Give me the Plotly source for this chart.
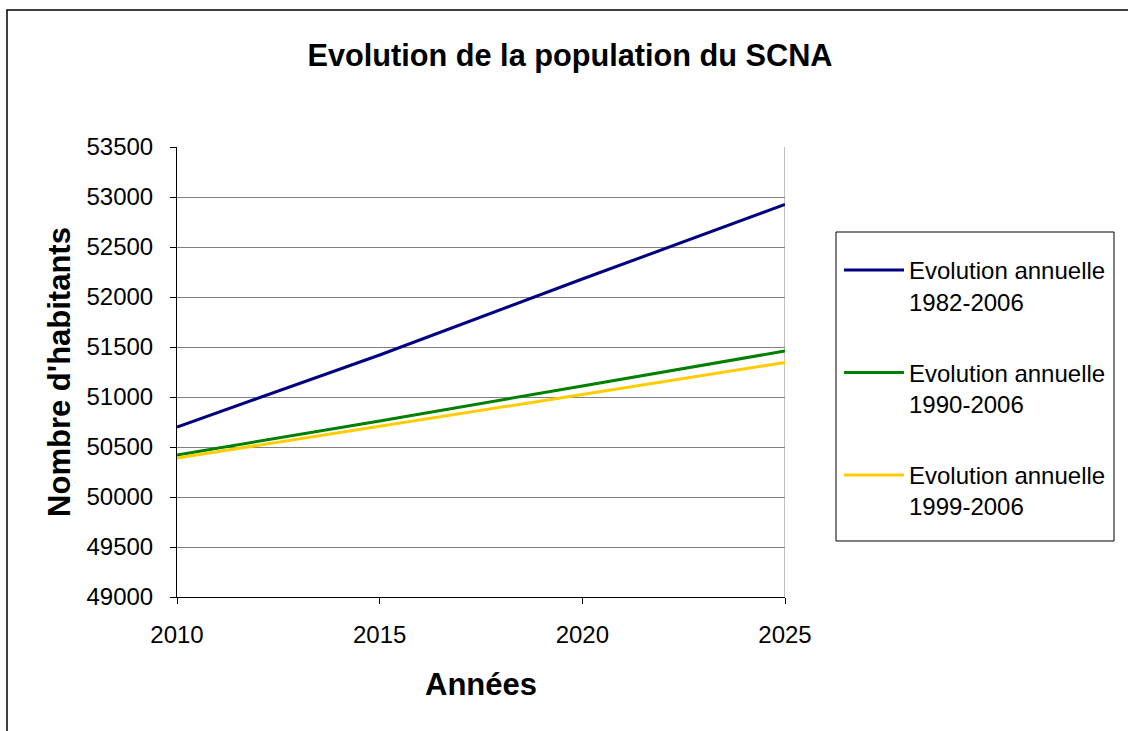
import plotly.graph_objects as go

years = [2010, 2015, 2020, 2025]
serie_1982 = [50700, 51420, 52180, 52925]
serie_1990 = [50420, 50760, 51110, 51460]
serie_1999 = [50390, 50705, 51025, 51345]
names = ["Evolution annuelle<br>1982-2006", "Evolution annuelle<br>1990-2006", "Evolution annuelle<br>1999-2006"]
colors = ["#000080", "#008000", "#FFCC00"]
y_ticks = list(range(49000, 53501, 500))
x_ticks = [2010, 2015, 2020, 2025]

W, H = 1128, 731
L, R, T, B = 177, 785, 147, 597

fig = go.Figure()
for i, (ys, nm, c) in enumerate(zip([serie_1982, serie_1990, serie_1999], names, colors)):
    fig.add_trace(go.Scatter(x=years, y=ys, mode="lines", name=nm,
                             line=dict(color=c, width=3), legendgroup=str(i)))

pw = R - L
ph = B - T
fig.update_layout(
    width=W, height=H,
    margin=dict(l=L, r=W - R, t=T, b=H - B, pad=0),
    paper_bgcolor="white", plot_bgcolor="white",
    font=dict(family="Arial, Liberation Sans, sans-serif", size=24, color="black"),
    title=dict(text="<b>Evolution de la population du SCNA</b>", x=570 / W, xanchor="center",
               y=1 - 55 / H, yanchor="middle", font=dict(size=30.7)),
    showlegend=True,
    legend=dict(x=(839 - L) / pw, y=(B - 248) / ph, xanchor="left", yanchor="top",
                borderwidth=0, bgcolor="rgba(0,0,0,0)",
                font=dict(size=24), tracegroupgap=37, traceorder="grouped",
                itemwidth=60, valign="top"),
    xaxis=dict(range=[2010, 2025], tickvals=x_ticks, tickformat="d", showgrid=False,
               showline=True, linecolor="black", linewidth=1, mirror=False,
               ticks="outside", ticklen=6, tickcolor="black", ticklabelstandoff=10,
               zeroline=False,
               title=dict(text="<b>Années</b>", font=dict(size=31), standoff=26)),
    yaxis=dict(range=[49000, 53500], tickvals=y_ticks, tickformat="d", showgrid=True,
               gridcolor="#808080", gridwidth=1,
               showline=True, linecolor="black", linewidth=1,
               ticks="outside", ticklen=6, tickcolor="black", ticklabelstandoff=12,
               zeroline=False,
               title=dict(text="<b>Nombre d'habitants</b>", font=dict(size=31), standoff=6)),
    shapes=[
        dict(type="line", xref="x", yref="paper", x0=2025, x1=2025, y0=0, y1=1,
             line=dict(color="#C0C0C0", width=2), layer="below"),
        dict(type="rect", xref="paper", yref="paper",
             x0=(836 - L) / pw, x1=(1114 - L) / pw,
             y0=(B - 541) / ph, y1=(B - 232) / ph,
             line=dict(color="black", width=1), fillcolor="rgba(0,0,0,0)"),
        dict(type="rect", xref="paper", yref="paper",
             x0=(7 - L) / pw, x1=(W + 50 - L) / pw,
             y0=(B - (H + 50)) / ph, y1=(B - 10) / ph,
             line=dict(color="black", width=1.5), fillcolor="rgba(0,0,0,0)"),
    ],
)

fig.write_html("out.html", config={"displayModeBar": False},
               post_script="document.body.style.margin='0px';")
